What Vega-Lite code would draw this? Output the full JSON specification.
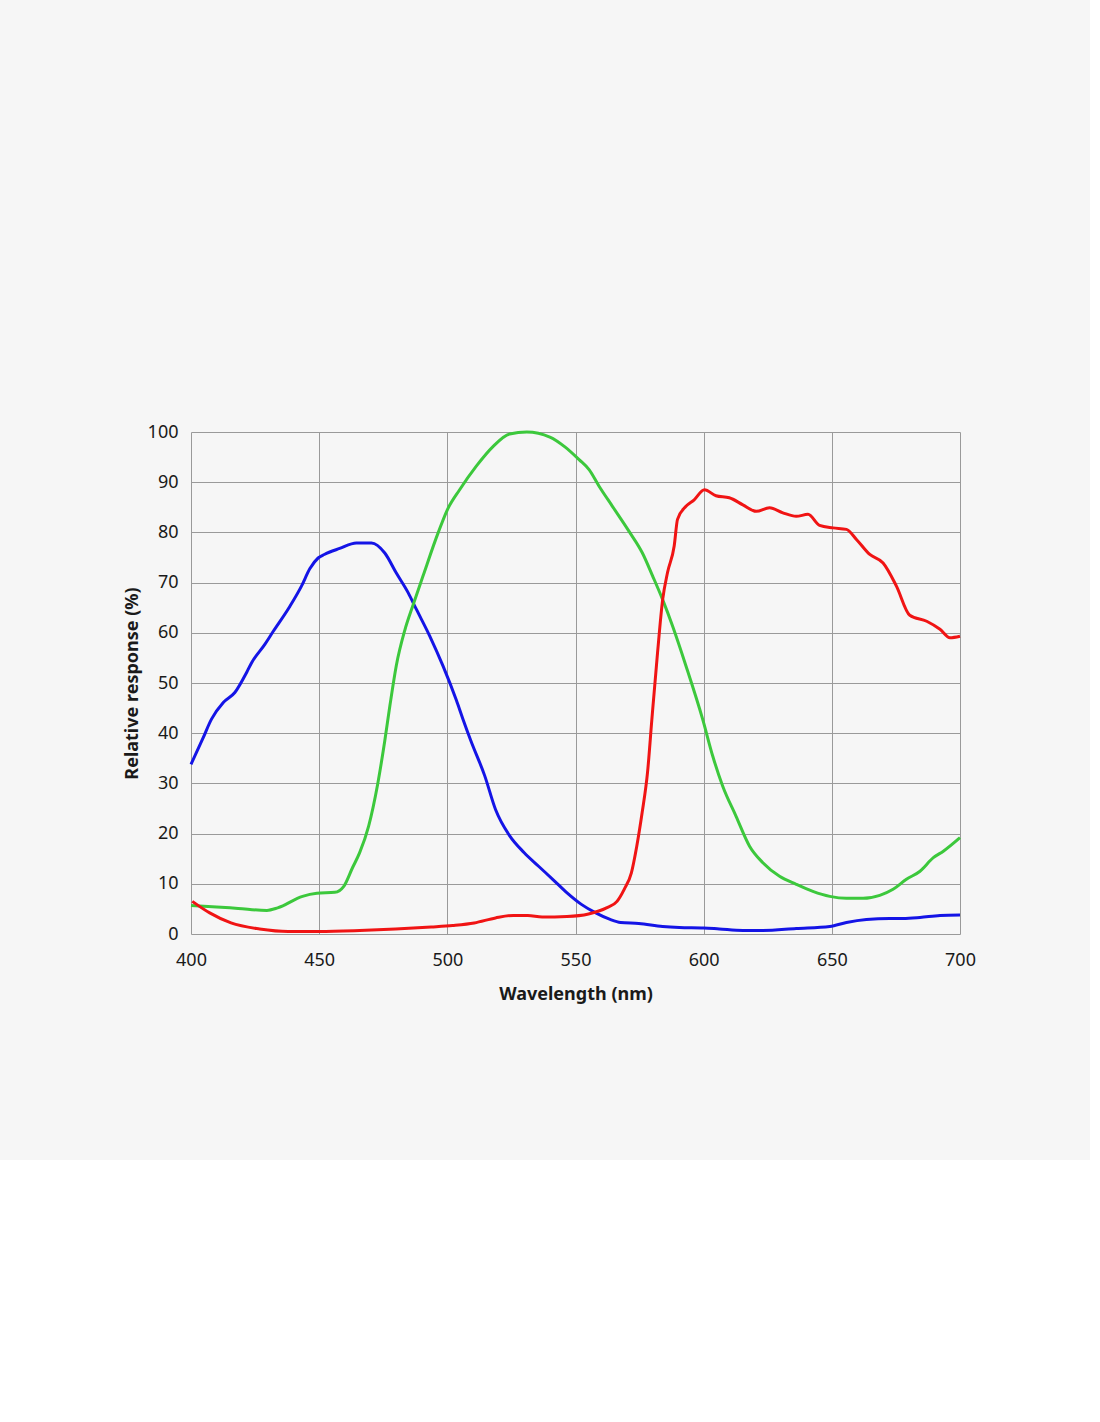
{
  "$schema": "https://vega.github.io/schema/vega-lite/v6.json",
  "autosize": {"type": "none"},
  "width": 769,
  "height": 502,
  "padding": {"left": 191, "top": 432, "right": 130, "bottom": 226},
  "background": "#f6f6f6",
  "config": {
    "font": "Noto Sans",
    "view": {"stroke": null},
    "axis": {
      "grid": true,
      "gridColor": "#9a9a9a",
      "gridWidth": 1,
      "domain": false,
      "ticks": false,
      "labelFontSize": 18,
      "labelColor": "#1a1a1a",
      "labelFlush": false,
      "titleFontSize": 18,
      "titleFontWeight": "bold",
      "titleColor": "#1a1a1a"
    }
  },
  "data": {
    "values": [
      {"channel": "B", "wavelength": 400, "response": 33.8},
      {"channel": "B", "wavelength": 404.5, "response": 38.8},
      {"channel": "B", "wavelength": 408, "response": 42.8},
      {"channel": "B", "wavelength": 412.6, "response": 46.1},
      {"channel": "B", "wavelength": 417.1, "response": 48.1},
      {"channel": "B", "wavelength": 421.7, "response": 52.1},
      {"channel": "B", "wavelength": 423.6, "response": 54.0},
      {"channel": "B", "wavelength": 428.8, "response": 57.7},
      {"channel": "B", "wavelength": 432.1, "response": 60.3},
      {"channel": "B", "wavelength": 438.6, "response": 65.3},
      {"channel": "B", "wavelength": 443.1, "response": 69.3},
      {"channel": "B", "wavelength": 446.4, "response": 72.8},
      {"channel": "B", "wavelength": 449.6, "response": 74.9},
      {"channel": "B", "wavelength": 452, "response": 75.6},
      {"channel": "B", "wavelength": 458, "response": 76.8},
      {"channel": "B", "wavelength": 464.5, "response": 77.9},
      {"channel": "B", "wavelength": 470.4, "response": 77.9},
      {"channel": "B", "wavelength": 475.6, "response": 75.9},
      {"channel": "B", "wavelength": 480.1, "response": 71.9},
      {"channel": "B", "wavelength": 484.7, "response": 68.0},
      {"channel": "B", "wavelength": 487.9, "response": 64.7},
      {"channel": "B", "wavelength": 493.1, "response": 59.4},
      {"channel": "B", "wavelength": 498.3, "response": 53.4},
      {"channel": "B", "wavelength": 503.5, "response": 46.6},
      {"channel": "B", "wavelength": 506.1, "response": 42.8},
      {"channel": "B", "wavelength": 509.1, "response": 38.6},
      {"channel": "B", "wavelength": 514.6, "response": 31.5},
      {"channel": "B", "wavelength": 518.8, "response": 24.8},
      {"channel": "B", "wavelength": 524.4, "response": 19.5},
      {"channel": "B", "wavelength": 530, "response": 16.2},
      {"channel": "B", "wavelength": 535.6, "response": 13.5},
      {"channel": "B", "wavelength": 541.1, "response": 10.9},
      {"channel": "B", "wavelength": 546.7, "response": 8.2},
      {"channel": "B", "wavelength": 552.3, "response": 5.9},
      {"channel": "B", "wavelength": 557.9, "response": 4.2},
      {"channel": "B", "wavelength": 563.5, "response": 2.9},
      {"channel": "B", "wavelength": 567.6, "response": 2.3},
      {"channel": "B", "wavelength": 574.7, "response": 2.1},
      {"channel": "B", "wavelength": 584, "response": 1.5},
      {"channel": "B", "wavelength": 590.5, "response": 1.3},
      {"channel": "B", "wavelength": 600, "response": 1.2},
      {"channel": "B", "wavelength": 606.1, "response": 1.0},
      {"channel": "B", "wavelength": 615.3, "response": 0.7},
      {"channel": "B", "wavelength": 623.1, "response": 0.7},
      {"channel": "B", "wavelength": 636.1, "response": 1.1},
      {"channel": "B", "wavelength": 649.2, "response": 1.5},
      {"channel": "B", "wavelength": 655.7, "response": 2.3},
      {"channel": "B", "wavelength": 663.5, "response": 2.9},
      {"channel": "B", "wavelength": 672.6, "response": 3.1},
      {"channel": "B", "wavelength": 677.8, "response": 3.1},
      {"channel": "B", "wavelength": 684.4, "response": 3.3},
      {"channel": "B", "wavelength": 692.2, "response": 3.7},
      {"channel": "B", "wavelength": 700, "response": 3.8},

      {"channel": "G", "wavelength": 400, "response": 5.7},
      {"channel": "G", "wavelength": 410, "response": 5.4},
      {"channel": "G", "wavelength": 418.4, "response": 5.1},
      {"channel": "G", "wavelength": 429.6, "response": 4.7},
      {"channel": "G", "wavelength": 433.8, "response": 5.2},
      {"channel": "G", "wavelength": 443.5, "response": 7.5},
      {"channel": "G", "wavelength": 449.1, "response": 8.1},
      {"channel": "G", "wavelength": 456.1, "response": 8.3},
      {"channel": "G", "wavelength": 459.6, "response": 9.5},
      {"channel": "G", "wavelength": 463, "response": 13.2},
      {"channel": "G", "wavelength": 465.8, "response": 16.2},
      {"channel": "G", "wavelength": 469.3, "response": 21.5},
      {"channel": "G", "wavelength": 472.8, "response": 29.8},
      {"channel": "G", "wavelength": 475.6, "response": 38.5},
      {"channel": "G", "wavelength": 477.6, "response": 45.5},
      {"channel": "G", "wavelength": 480.1, "response": 53.5},
      {"channel": "G", "wavelength": 483.4, "response": 60.5},
      {"channel": "G", "wavelength": 486.6, "response": 65.5},
      {"channel": "G", "wavelength": 490.5, "response": 71.3},
      {"channel": "G", "wavelength": 496.4, "response": 79.9},
      {"channel": "G", "wavelength": 500, "response": 84.5},
      {"channel": "G", "wavelength": 504.8, "response": 88.5},
      {"channel": "G", "wavelength": 511.3, "response": 93.2},
      {"channel": "G", "wavelength": 517.8, "response": 97.1},
      {"channel": "G", "wavelength": 524.3, "response": 99.6},
      {"channel": "G", "wavelength": 531, "response": 100},
      {"channel": "G", "wavelength": 540, "response": 99},
      {"channel": "G", "wavelength": 546, "response": 97},
      {"channel": "G", "wavelength": 551.4, "response": 94.5},
      {"channel": "G", "wavelength": 555.3, "response": 92.5},
      {"channel": "G", "wavelength": 559.2, "response": 89.2},
      {"channel": "G", "wavelength": 564.4, "response": 85.2},
      {"channel": "G", "wavelength": 570.9, "response": 80.2},
      {"channel": "G", "wavelength": 576.1, "response": 75.9},
      {"channel": "G", "wavelength": 580.1, "response": 71.3},
      {"channel": "G", "wavelength": 584, "response": 66.6},
      {"channel": "G", "wavelength": 587.9, "response": 61.3},
      {"channel": "G", "wavelength": 593.1, "response": 53.4},
      {"channel": "G", "wavelength": 599.6, "response": 42.8},
      {"channel": "G", "wavelength": 603.5, "response": 35.5},
      {"channel": "G", "wavelength": 607.4, "response": 29.5},
      {"channel": "G", "wavelength": 612.6, "response": 23.5},
      {"channel": "G", "wavelength": 617.9, "response": 17.5},
      {"channel": "G", "wavelength": 623.1, "response": 14.2},
      {"channel": "G", "wavelength": 629.6, "response": 11.5},
      {"channel": "G", "wavelength": 636.1, "response": 9.9},
      {"channel": "G", "wavelength": 642.6, "response": 8.5},
      {"channel": "G", "wavelength": 649.2, "response": 7.5},
      {"channel": "G", "wavelength": 655.7, "response": 7.1},
      {"channel": "G", "wavelength": 662.2, "response": 7.1},
      {"channel": "G", "wavelength": 668.7, "response": 7.7},
      {"channel": "G", "wavelength": 673.9, "response": 8.9},
      {"channel": "G", "wavelength": 679.1, "response": 10.9},
      {"channel": "G", "wavelength": 684.4, "response": 12.5},
      {"channel": "G", "wavelength": 689.6, "response": 15.2},
      {"channel": "G", "wavelength": 693.5, "response": 16.5},
      {"channel": "G", "wavelength": 700, "response": 19.2},

      {"channel": "R", "wavelength": 400.5, "response": 6.5},
      {"channel": "R", "wavelength": 407.3, "response": 4.2},
      {"channel": "R", "wavelength": 415.6, "response": 2.2},
      {"channel": "R", "wavelength": 426.8, "response": 1.0},
      {"channel": "R", "wavelength": 437.9, "response": 0.5},
      {"channel": "R", "wavelength": 450, "response": 0.5},
      {"channel": "R", "wavelength": 465.8, "response": 0.7},
      {"channel": "R", "wavelength": 479.8, "response": 1.0},
      {"channel": "R", "wavelength": 493.7, "response": 1.4},
      {"channel": "R", "wavelength": 502.1, "response": 1.7},
      {"channel": "R", "wavelength": 510.5, "response": 2.2},
      {"channel": "R", "wavelength": 518.8, "response": 3.2},
      {"channel": "R", "wavelength": 525.8, "response": 3.7},
      {"channel": "R", "wavelength": 531.4, "response": 3.7},
      {"channel": "R", "wavelength": 537, "response": 3.4},
      {"channel": "R", "wavelength": 546.7, "response": 3.5},
      {"channel": "R", "wavelength": 555.1, "response": 4.0},
      {"channel": "R", "wavelength": 562.1, "response": 5.2},
      {"channel": "R", "wavelength": 566.2, "response": 6.5},
      {"channel": "R", "wavelength": 569, "response": 8.9},
      {"channel": "R", "wavelength": 571.8, "response": 12.2},
      {"channel": "R", "wavelength": 573.9, "response": 17.5},
      {"channel": "R", "wavelength": 576, "response": 24.2},
      {"channel": "R", "wavelength": 578.1, "response": 32.2},
      {"channel": "R", "wavelength": 579.8, "response": 42.8},
      {"channel": "R", "wavelength": 582, "response": 56},
      {"channel": "R", "wavelength": 584, "response": 66.6},
      {"channel": "R", "wavelength": 585.9, "response": 72},
      {"channel": "R", "wavelength": 588.5, "response": 77.3},
      {"channel": "R", "wavelength": 589.8, "response": 82.6},
      {"channel": "R", "wavelength": 593.1, "response": 85.2},
      {"channel": "R", "wavelength": 596.3, "response": 86.5},
      {"channel": "R", "wavelength": 600.3, "response": 88.5},
      {"channel": "R", "wavelength": 604.8, "response": 87.3},
      {"channel": "R", "wavelength": 610, "response": 86.9},
      {"channel": "R", "wavelength": 615.3, "response": 85.5},
      {"channel": "R", "wavelength": 620.5, "response": 84.2},
      {"channel": "R", "wavelength": 625.7, "response": 84.9},
      {"channel": "R", "wavelength": 630.9, "response": 83.9},
      {"channel": "R", "wavelength": 636.1, "response": 83.2},
      {"channel": "R", "wavelength": 640.7, "response": 83.6},
      {"channel": "R", "wavelength": 645.2, "response": 81.4},
      {"channel": "R", "wavelength": 650.5, "response": 80.9},
      {"channel": "R", "wavelength": 655.7, "response": 80.6},
      {"channel": "R", "wavelength": 659.6, "response": 78.6},
      {"channel": "R", "wavelength": 664.8, "response": 75.6},
      {"channel": "R", "wavelength": 670, "response": 73.9},
      {"channel": "R", "wavelength": 675.2, "response": 69.3},
      {"channel": "R", "wavelength": 680.4, "response": 63.5},
      {"channel": "R", "wavelength": 687, "response": 62.3},
      {"channel": "R", "wavelength": 692.2, "response": 60.7},
      {"channel": "R", "wavelength": 696.1, "response": 59.0},
      {"channel": "R", "wavelength": 700, "response": 59.3}
    ]
  },
  "mark": {"type": "line", "strokeWidth": 3, "interpolate": "monotone"},
  "encoding": {
    "x": {
      "field": "wavelength",
      "type": "quantitative",
      "title": "Wavelength (nm)",
      "scale": {"domain": [400, 700], "nice": false, "zero": false},
      "axis": {"values": [400, 450, 500, 550, 600, 650, 700], "labelPadding": 17, "titlePadding": 16}
    },
    "y": {
      "field": "response",
      "type": "quantitative",
      "title": "Relative response (%)",
      "scale": {"domain": [0, 100], "nice": false},
      "axis": {"values": [0, 10, 20, 30, 40, 50, 60, 70, 80, 90, 100], "labelPadding": 13, "titlePadding": 6}
    },
    "color": {
      "field": "channel",
      "type": "nominal",
      "scale": {"domain": ["B", "G", "R"], "range": ["#1414e6", "#3cc83c", "#f01414"]},
      "legend": null
    }
  }
}
